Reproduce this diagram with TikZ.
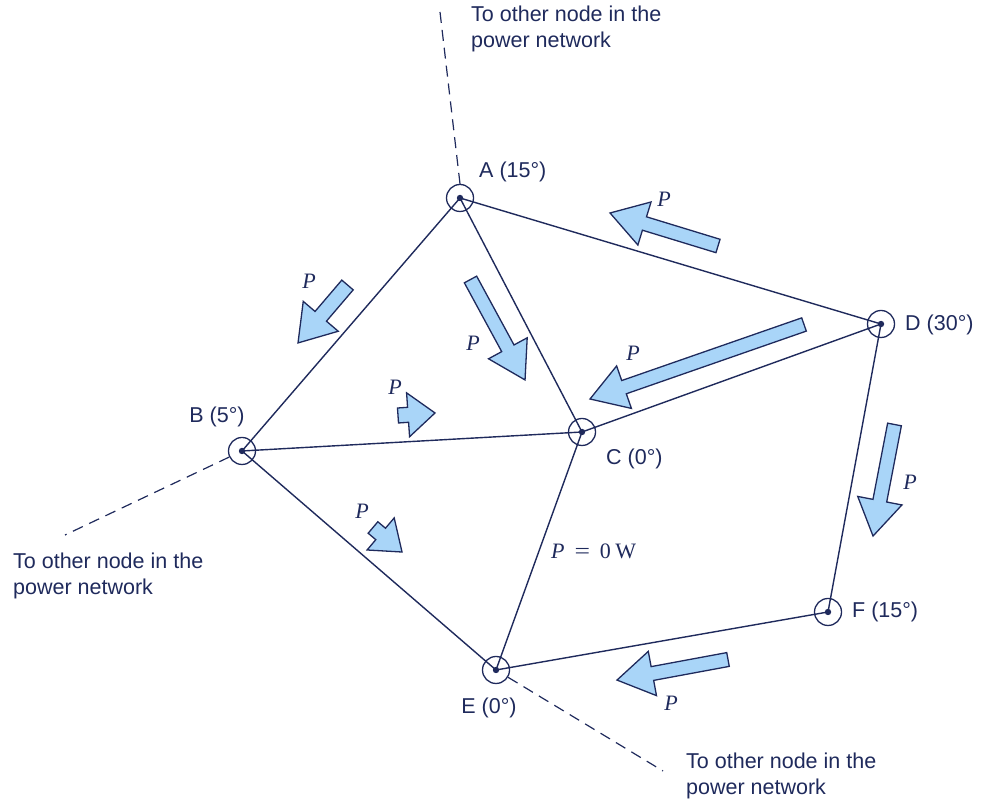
\documentclass[tikz,border=0pt]{standalone}
\usepackage{fontspec}
\setmainfont{Liberation Sans}
\newfontfamily\pserif{Liberation Serif}
\begin{document}
\begin{tikzpicture}[x=1pt,y=1pt,
  every node/.style={font=\fontsize{21.5}{26}\selectfont, text=navy, inner sep=0pt},
  bus/.style={circle, draw=navy, line width=1.3pt, minimum size=27pt, inner sep=0pt},
  edge/.style={draw=navy, line width=1.4pt},
  dashedge/.style={draw=navy, line width=1.2pt, dash pattern=on 11pt off 7pt},
  barr/.style={draw=navy, fill=lightblue, line width=1.3pt, line join=miter},
  plab/.style={font=\fontsize{22}{26}\pserif\itshape},
  note/.style={align=left, anchor=north west}]
\definecolor{navy}{HTML}{1F2A5C}
\definecolor{lightblue}{HTML}{A9D5F8}
\newcommand{\barrow}[7]{%
  \draw[barr, shift={(#1,799-#2)}, rotate=#3] (0,-#5/2) -- ({#4-#7},-#5/2) -- ({#4-#7},-#6/2) -- (#4,0) -- ({#4-#7},#6/2) -- ({#4-#7},#5/2) -- (0,#5/2) -- cycle;}
\useasboundingbox (0,0) rectangle (982,799);
% buses
\node[bus] (A) at (460,799-198) {};
\node[bus] (B) at (242,799-451) {};
\node[bus] (C) at (582,799-432) {};
\node[bus] (D) at (881,799-324) {};
\node[bus] (E) at (496,799-670) {};
\node[bus] (F) at (828,799-612) {};
% free ends
\coordinate (At) at (440,799-12);
\coordinate (Bt) at (65,799-535);
\coordinate (Et) at (663,799-771);
% edges
\draw[edge] (A.center) -- (B.center);
\draw[edge] (A.center) -- (C.center);
\draw[edge] (A.center) -- (D.center);
\draw[edge] (B.center) -- (C.center);
\draw[edge] (B.center) -- (E.center);
\draw[edge] (C.center) -- (E.center);
\draw[edge] (C.center) -- (D.center);
\draw[edge] (D.center) -- (F.center);
\draw[edge] (E.center) -- (F.center);
% dashed
\draw[dashedge] (A.north) -- (At);
\draw[dashedge] (B) -- (Bt);
\draw[dashedge] (E) -- (Et);
% dots
\foreach \n in {A,B,C,D,E,F} \fill[navy] (\n.center) circle (3.2);
% labels
\node[anchor=west] (la) at (479,799-172) {A (15°)};
\node (lb) at (217,799-417) {B (5°)};
\node[anchor=west] (lc) at (606,799-459) {C (0°)};
\node[anchor=west] (ld) at (905,799-325) {D (30°)};
\node (le) at (489,799-708) {E (0°)};
\node[anchor=west] (lf) at (852,799-612) {F (15°)};
\node[note] (n1) at (471,799-6) {To other node in the\\power network};
\node[note] (n2) at (13,799-553) {To other node in the\\power network};
\node[note] (n3) at (686,799-753) {To other node in the\\power network};
% arrows
\barrow{718}{246}{163.0}{112.9}{14}{45}{36}
\barrow{347.5}{285}{229.5}{76.2}{15}{46}{35}
\barrow{470.5}{279.5}{-61.5}{114.3}{14}{44}{36}
\barrow{804}{324.5}{199.2}{226.6}{14}{45}{36}
\barrow{398}{415.5}{3.9}{37.1}{15}{44}{27}
\barrow{373}{527.5}{-40.2}{38}{15}{42}{28}
\barrow{894.5}{424.5}{-100.9}{113.6}{14}{45}{36}
\barrow{728}{659.5}{190.5}{112.9}{14}{45}{36}
% P labels
\node[plab] (p1) at (664,799-199) {P};
\node[plab] (p2) at (309,799-281) {P};
\node[plab] (p3) at (473,799-343) {P};
\node[plab] (p4) at (633,799-353) {P};
\node[plab] (p5) at (395,799-387) {P};
\node[plab] (p6) at (362,799-511) {P};
\node[plab] (p7) at (910,799-482) {P};
\node[plab] (p8) at (671,799-703) {P};
\node[font=\fontsize{22}{26}\pserif, anchor=west] (p9) at (551,799-551) {\textit{P}\hspace{0.45em}\scalebox{1.25}[1]{=}\hspace{0.45em}0\hspace{0.2em}W};
\end{tikzpicture}
\end{document}
